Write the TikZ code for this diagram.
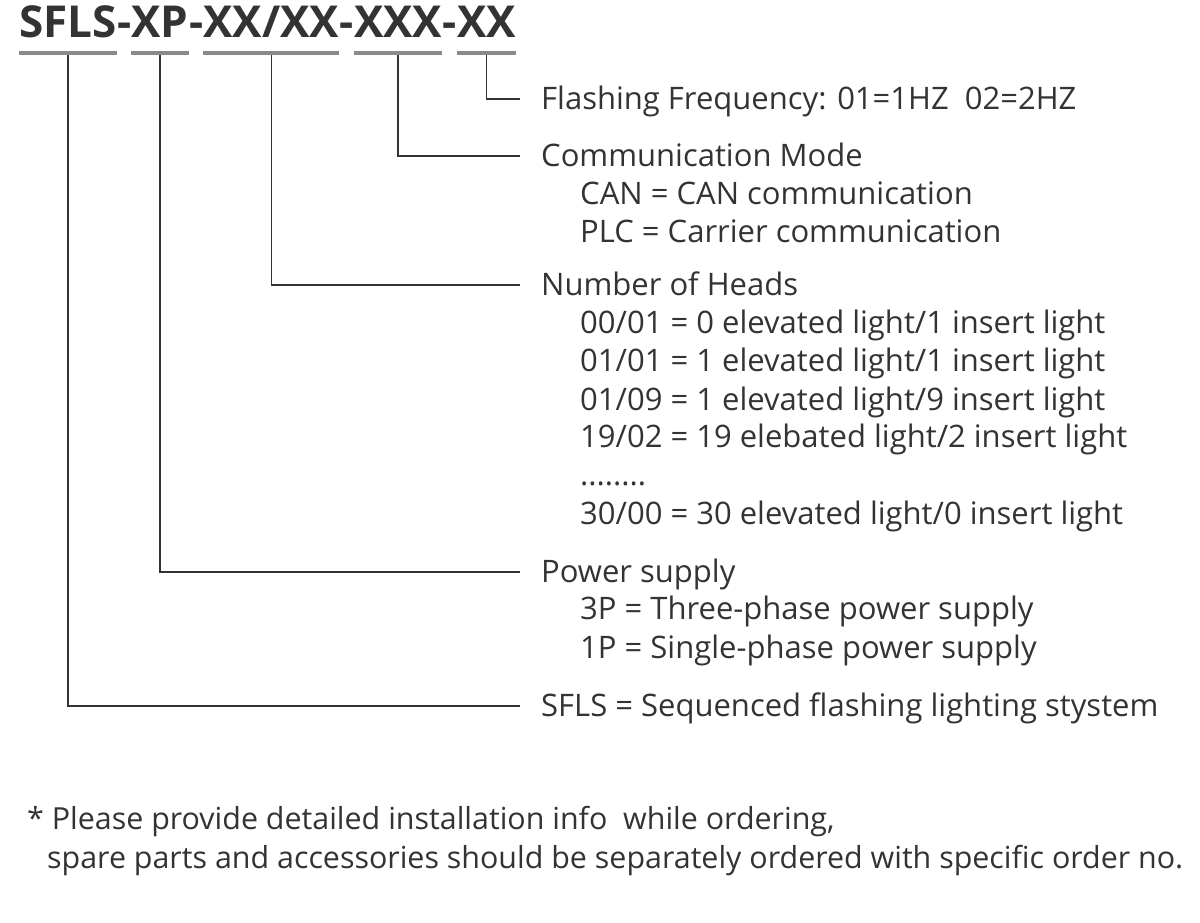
\documentclass[tikz,border=0pt]{standalone}
\usepackage{fontspec}
\setmainfont{Open Sans}
\definecolor{inkgray}{HTML}{333333}
\definecolor{rulegray}{HTML}{8A8A8A}
\tikzset{
  code/.style={inner sep=0pt, anchor=base west, text=inkgray,
    font=\fontsize{44}{44}\selectfont\bfseries},
  info/.style={inner sep=0pt, anchor=base west, text=inkgray,
    font=\fontsize{31}{34}\selectfont},
  note/.style={info, font=\fontsize{30.4}{34}\selectfont},
  uline/.style={draw=rulegray, line width=3.5pt},
  conn/.style={draw=inkgray, line width=1.6pt},
}
\begin{document}
\begin{tikzpicture}[x=1pt,y=-1pt]
  \useasboundingbox (0,0) rectangle (1200,922);

  % order code
  \node[code] (sfls) at (19,37) {SFLS};
  \node[code] (h1) at (sfls.base east) {-};
  \node[code] (xp) at (h1.base east) {XP};
  \node[code] (h2) at (xp.base east) {-};
  \node[code] (heads) at (h2.base east) {XX/XX};
  \node[code] (h3) at (heads.base east) {-};
  \node[code] (mode) at (h3.base east) {XXX};
  \node[code] (h4) at (mode.base east) {-};
  \node[code] (freq) at (h4.base east) {XX};

  \draw[uline] ([yshift=-16pt]sfls.base west) -- ([yshift=-16pt]sfls.base east);
  \draw[uline] ([yshift=-16pt]xp.base west) -- ([yshift=-16pt]xp.base east);
  \draw[uline] ([yshift=-16pt]heads.base west) -- ([yshift=-16pt]heads.base east);
  \draw[uline] ([yshift=-16pt]mode.base west) -- ([yshift=-16pt]mode.base east);
  \draw[uline] ([yshift=-16pt]freq.base west) -- ([yshift=-16pt]freq.base east);

  % descriptions
  \node[info] (lfreq) at (541,109) {Flashing Frequency: 01=1HZ\ \ 02=2HZ};

  \node[info] (lmode) at (541,166) {Communication Mode};
  \node[info] (can) at (580,204) {CAN = CAN communication};
  \node[info] (plc) at (580,242) {PLC = Carrier communication};

  \node[info] (lheads) at (541,295) {Number of Heads};
  \node[info] (n1) at (580,333) {00/01 = 0 elevated light/1 insert light};
  \node[info] (n2) at (580,371) {01/01 = 1 elevated light/1 insert light};
  \node[info] (n3) at (580,410) {01/09 = 1 elevated light/9 insert light};
  \node[info] (n4) at (580,447) {19/02 = 19 elebated light/2 insert light};
  \node[info] (dots) at (580,485) {........};
  \node[info] (n5) at (580,524) {30/00 = 30 elevated light/0 insert light};

  \node[info] (lxp) at (541,582) {Power supply};
  \node[info] (p3) at (580,619) {3P = Three-phase power supply};
  \node[info] (p1) at (580,658) {1P = Single-phase power supply};

  \node[info] (lsfls) at (541,716) {SFLS = Sequenced flashing lighting stystem};

  \node[note] (note1) at (27,829) {* Please provide detailed installation info\ \ while ordering,};
  \node[note] (note2) at (47,868) {spare parts and accessories should be separately ordered with specific order no.};

  % connectors
  \draw[conn] ([yshift=-18pt]freq.base) |- ([xshift=-21pt,yshift=10pt]lfreq.base west);
  \draw[conn] ([yshift=-18pt]mode.base) |- ([xshift=-21pt,yshift=10pt]lmode.base west);
  \draw[conn] ([yshift=-18pt]heads.base) |- ([xshift=-21pt,yshift=10pt]lheads.base west);
  \draw[conn] ([yshift=-18pt]xp.base) |- ([xshift=-21pt,yshift=10pt]lxp.base west);
  \draw[conn] ([yshift=-18pt]sfls.base) |- ([xshift=-21pt,yshift=10pt]lsfls.base west);
\end{tikzpicture}
\end{document}
